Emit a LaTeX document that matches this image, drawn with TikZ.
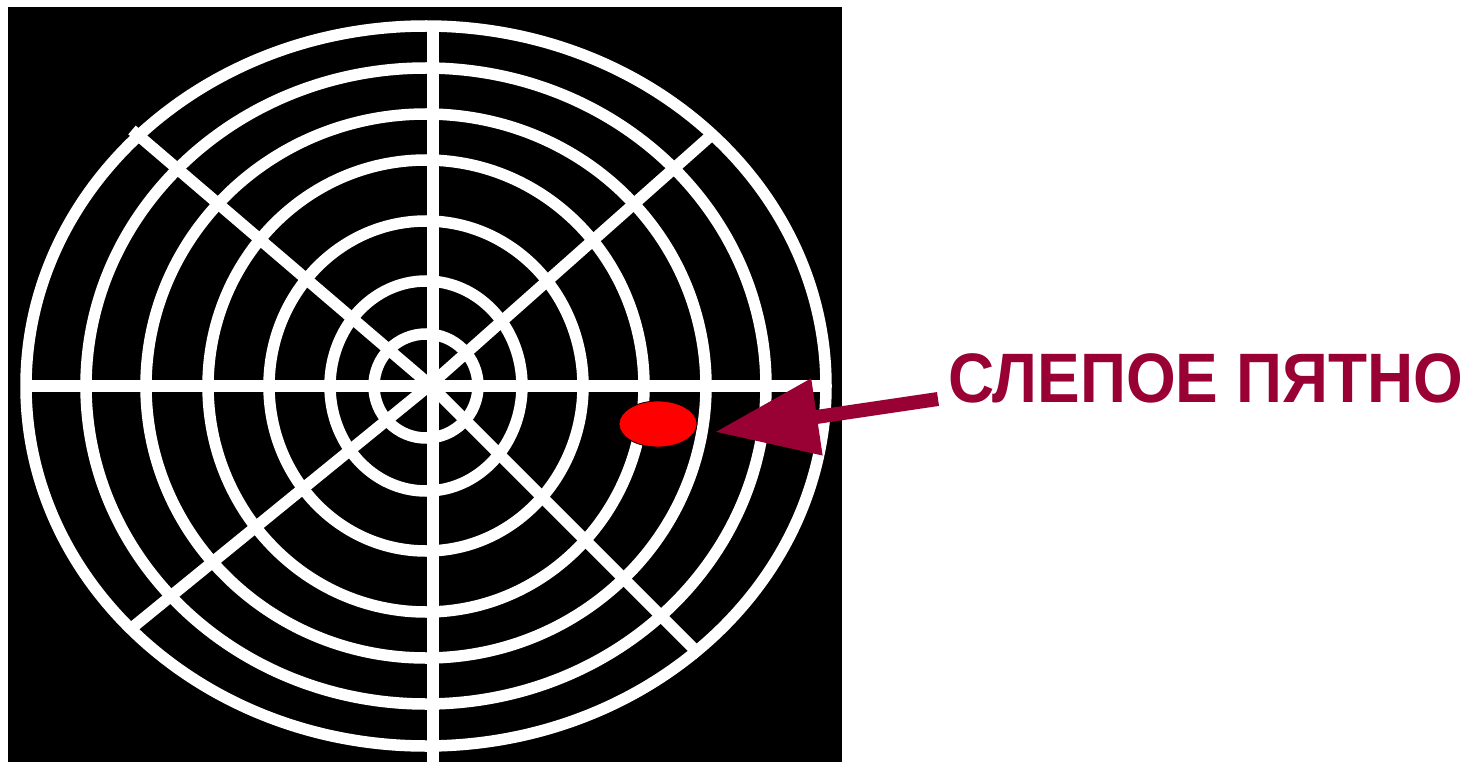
\documentclass[tikz,border=0pt]{standalone}
\usepackage{fontspec}
\setmainfont{Liberation Sans}
\usepackage{tikz}
\usetikzlibrary{arrows.meta, shapes.geometric}
\definecolor{wine}{RGB}{153,0,51}

\begin{document}
\begin{tikzpicture}[x=1pt, y=-1pt,
  ring/.style={draw=white, line width=11.5pt},
  spoke/.style={draw=white, line width=11.5pt},
  spotmark/.style={ellipse, draw=black, line width=0.8pt, fill=red,
                   minimum width=78pt, minimum height=46pt, inner sep=0pt},
  caption/.style={font=\bfseries\fontsize{70}{80}\selectfont, text=wine,
                  inner sep=0pt, xscale=0.913},
  pointer/.style={-{Triangle[length=103pt, width=74pt]}, line width=14pt, draw=wine},
]
  \useasboundingbox (0,0) rectangle (1472,762);
  \fill[black] (8,7) rectangle (842,762);

  % concentric rings
  \foreach \rx/\ry in {400/360, 340/318, 280/272, 218/226, 157/165, 96/105, 52/52}
    \draw[ring] (426,386) ellipse [x radius=\rx, y radius=\ry];

  % spokes
  \coordinate (hub) at (430,385);
  \draw[spoke] (26,386) -- (826,386);
  \draw[spoke] (132,130) -- (hub) -- (700,655);
  \draw[spoke] (715,132) -- (hub) -- (133,627);
  \draw[spoke] (433,29) -- (433,762);

  \node[spotmark] (spot) at (658,424) {};
  \node[caption, anchor=base west] (label) at (948,402) {СЛЕПОЕ ПЯТНО};

  \coordinate (tail) at (938,399);
  \coordinate (tip) at (715,432);
  \draw[pointer] (tail) -- (tip);
\end{tikzpicture}
\end{document}
